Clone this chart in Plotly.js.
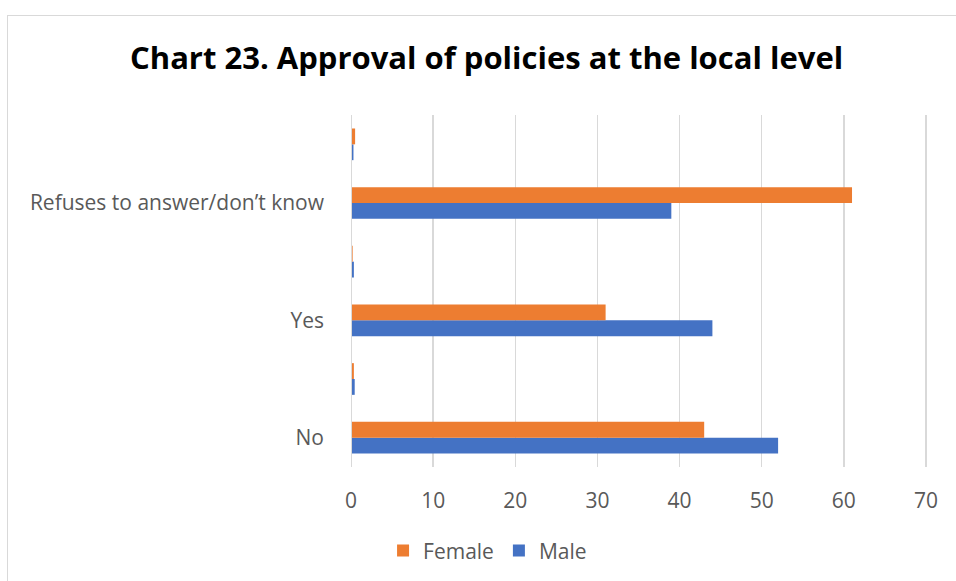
<!DOCTYPE html>
<html><head><meta charset="utf-8">
<script src="https://cdn.plot.ly/plotly-3.0.1.min.js"></script>
<style>
html,body{margin:0;padding:0;background:#fff;overflow:hidden;}
#frame{position:absolute;left:7px;top:15px;width:960px;height:580px;border-left:1px solid #d9d9d9;border-top:1px solid #d9d9d9;box-sizing:border-box;pointer-events:none;z-index:5;}
#chart{position:absolute;left:0;top:0;width:956px;height:581px;}
</style>
</head><body>
<div id="chart"></div>
<div id="frame"></div>
<script>
const categories = ["No", "\u200b", "Yes", "\u200b\u200b", "Refuses to answer/don’t know", "\u200b\u200b\u200b"];
const femaleValues = [43, 0.35, 31, 0.2, 61, 0.5];
const maleValues = [52, 0.45, 44, 0.35, 39, 0.3];
const xTicks = [0, 10, 20, 30, 40, 50, 60, 70];

const traces = [
  {type:'bar', orientation:'h', name:'Male', y:categories, x:maleValues,
   marker:{color:'#4472C4'}, hoverinfo:'x+name'},
  {type:'bar', orientation:'h', name:'Female', y:categories, x:femaleValues,
   marker:{color:'#ED7D31'}, hoverinfo:'x+name'}
];

const layout = {
  width:956, height:581,
  paper_bgcolor:'#ffffff', plot_bgcolor:'#ffffff',
  margin:{l:351, r:28, t:115, b:114, autoexpand:false},
  barmode:'group', bargap:0.46, bargroupgap:0,
  title:{text:'<b>Chart 23. Approval of policies at the local level</b>',
    font:{family:'Open Sans, sans-serif', size:31, color:'#000000'},
    x:0.509, xanchor:'center', xref:'container', y:0.9, yanchor:'middle'},
  font:{family:'Open Sans, sans-serif', size:21, color:'#595959'},
  xaxis:{range:[0,70.25], tickvals:xTicks, ticktext:xTicks.map(String),
    showgrid:true, gridcolor:'#d9d9d9', gridwidth:1.5, zeroline:false,
    showline:false, ticks:'', tickfont:{size:21, color:'#595959'}, ticklabelstandoff:19,
    fixedrange:true},
  yaxis:{type:'category', categoryorder:'array', categoryarray:categories,
    showgrid:false, zeroline:false, showline:false, ticks:'',
    tickfont:{size:21, color:'#595959'}, ticklabelstandoff:26, fixedrange:true},
  shapes:[{type:'line', xref:'x', yref:'paper', x0:0, x1:0, y0:0, y1:1,
    line:{color:'#d9d9d9', width:2}}],
  legend:{orientation:'h', xref:'container', yref:'container', x:0.51, xanchor:'center',
    y:0.052, yanchor:'middle',
    traceorder:'reversed', font:{size:21, color:'#595959'}, itemwidth:30},
  showlegend:true
};

Plotly.newPlot('chart', traces, layout, {displayModeBar:false, staticPlot:true});
</script>
</body></html>
